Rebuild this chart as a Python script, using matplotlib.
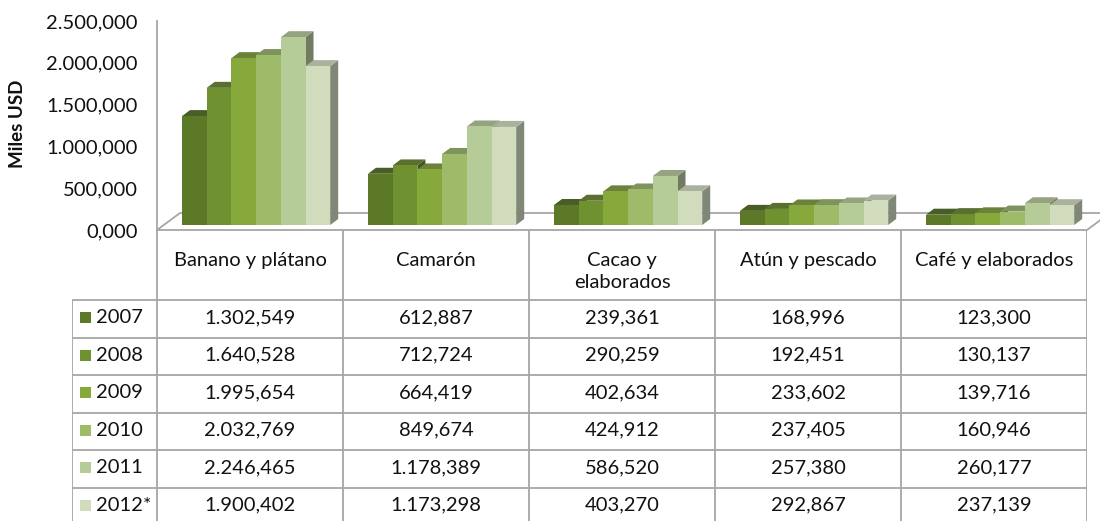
import numpy as np
import matplotlib.pyplot as plt
import matplotlib.transforms as mtransforms
from matplotlib.patches import Polygon, Rectangle

# Data (Miles USD)
categories = ['Banano y plátano', 'Camarón', 'Cacao y\nelaborados',
              'Atún y pescado', 'Café y elaborados']
years = ['2007', '2008', '2009', '2010', '2011', '2012*']
values = {
    '2007': [1302.549, 612.887, 239.361, 168.996, 123.300],
    '2008': [1640.528, 712.724, 290.259, 192.451, 130.137],
    '2009': [1995.654, 664.419, 402.634, 233.602, 139.716],
    '2010': [2032.769, 849.674, 424.912, 237.405, 160.946],
    '2011': [2246.465, 1178.389, 586.520, 257.380, 260.177],
    '2012*': [1900.402, 1173.298, 403.270, 292.867, 237.139],
}
y_ticks = [0, 500, 1000, 1500, 2000, 2500]

colors = ['#5b7927', '#6f9130', '#87a83b', '#9dbb68', '#b6cc98', '#d0dcbc']
line_gray = '#a6a6a6'
text_col = '#111111'
fs = 14.5


def es_fmt(v):
    # spanish style: 1.302,549
    s = f'{v:,.3f}'
    return s.replace(',', '#').replace('.', ',').replace('#', '.')


def shade(c, f):
    rgb = np.array(plt.matplotlib.colors.to_rgb(c))
    gray = rgb.mean()
    rgb = rgb * 0.8 + gray * 0.2
    return tuple(np.clip(rgb * f, 0, 1))


plt.rcParams['font.family'] = ['Lato', 'DejaVu Sans']
W, H = 1100, 521
fig = plt.figure(figsize=(W / 100, H / 100), dpi=100)

# ---- chart area ----
ax = fig.add_axes([157 / W, (H - 230) / H, 930 / W, 209 / H])
ax.set_xlim(0, len(categories))
ax.set_ylim(0, 2500)
for s in ['top', 'right', 'bottom']:
    ax.spines[s].set_visible(False)
ax.spines['left'].set_color(line_gray)
ax.spines['left'].set_linewidth(1.3)
ax.set_xticks([])
ax.set_yticks(y_ticks)
ax.set_yticklabels([es_fmt(v) for v in y_ticks], fontsize=fs, color=text_col)
ax.tick_params(axis='y', length=0, pad=14)
ax.patch.set_alpha(0)

px_x = 930 / len(categories)      # pixels per category unit
px_y = 209 / 2500                  # pixels per value unit

# floor
fdx, fdy = 23 / px_x, 17 / px_y
floor = Polygon([(0, 0), (5, 0), (5 + fdx, fdy), (fdx, fdy)], closed=True,
                facecolor='white', edgecolor=line_gray, lw=1.3,
                clip_on=False, zorder=1)
ax.add_patch(floor)

# bars sit a bit behind the front edge
shift = mtransforms.ScaledTranslation(7 / 100, 5 / 100, fig.dpi_scale_trans)
trans = ax.transData + shift
bw = 24.7 / px_x
off = 18 / px_x
ddx, ddy = 8 / px_x, 6 / px_y

z = 2
for i in range(len(categories)):
    for j, yr in enumerate(years):
        h = values[yr][i]
        x0 = i + off + j * bw
        x1 = x0 + bw
        side = Polygon([(x1, 0), (x1 + ddx, ddy), (x1 + ddx, h + ddy), (x1, h)],
                       facecolor=shade(colors[j], 0.62), edgecolor='none',
                       transform=trans, clip_on=False, zorder=z)
        top = Polygon([(x0, h), (x1, h), (x1 + ddx, h + ddy), (x0 + ddx, h + ddy)],
                      facecolor=shade(colors[j], 0.82), edgecolor='none',
                      transform=trans, clip_on=False, zorder=z + 0.01)
        ax.add_patch(side)
        ax.add_patch(top)
        ax.bar(x0, h, width=bw, align='edge', color=colors[j], lw=0,
               transform=trans, clip_on=False, zorder=z + 0.02)
        z += 0.05

fig.text(18 / W, 1 - 124 / H, 'Miles USD', rotation=90, ha='center',
         va='center', fontsize=13.5, fontweight='bold', color=text_col)

# ---- data table ----
row_h = 37.5
hdr = 70 / row_h
left = -(157 - 72) / px_x
tax = fig.add_axes([72 / W, 0, (1087 - 72) / W, (H - 230) / H])
tax.set_xlim(left, len(categories))
tax.set_ylim((H - 230) / row_h, 0)
tax.axis('off')

n = len(years)
rows_y = [hdr + k for k in range(n + 1)]
tax.hlines(rows_y, left, len(categories), color=line_gray, lw=1.3, clip_on=False)
tax.vlines(range(len(categories) + 1), 0, rows_y[-1], color=line_gray, lw=1.3)
tax.vlines(left, hdr, rows_y[-1], color=line_gray, lw=1.3)

for i, cat in enumerate(categories):
    tax.text(i + 0.5, 0.58, cat, ha='center', va='top', fontsize=fs,
             color=text_col, linespacing=1.35)

sq_w = 11 / px_x
for j, yr in enumerate(years):
    yc = hdr + j + 0.47
    tax.add_patch(Rectangle((left + 8 / px_x, yc - 0.15), sq_w, 0.3,
                            facecolor=colors[j], edgecolor='none'))
    tax.text(left + 24 / px_x, yc, yr, ha='left', va='center', fontsize=fs,
             color=text_col)
    for i in range(len(categories)):
        tax.text(i + 0.5, yc, es_fmt(values[yr][i]), ha='center', va='center',
                 fontsize=fs, color=text_col)

fig.savefig('out.png', dpi=100, facecolor='white')
